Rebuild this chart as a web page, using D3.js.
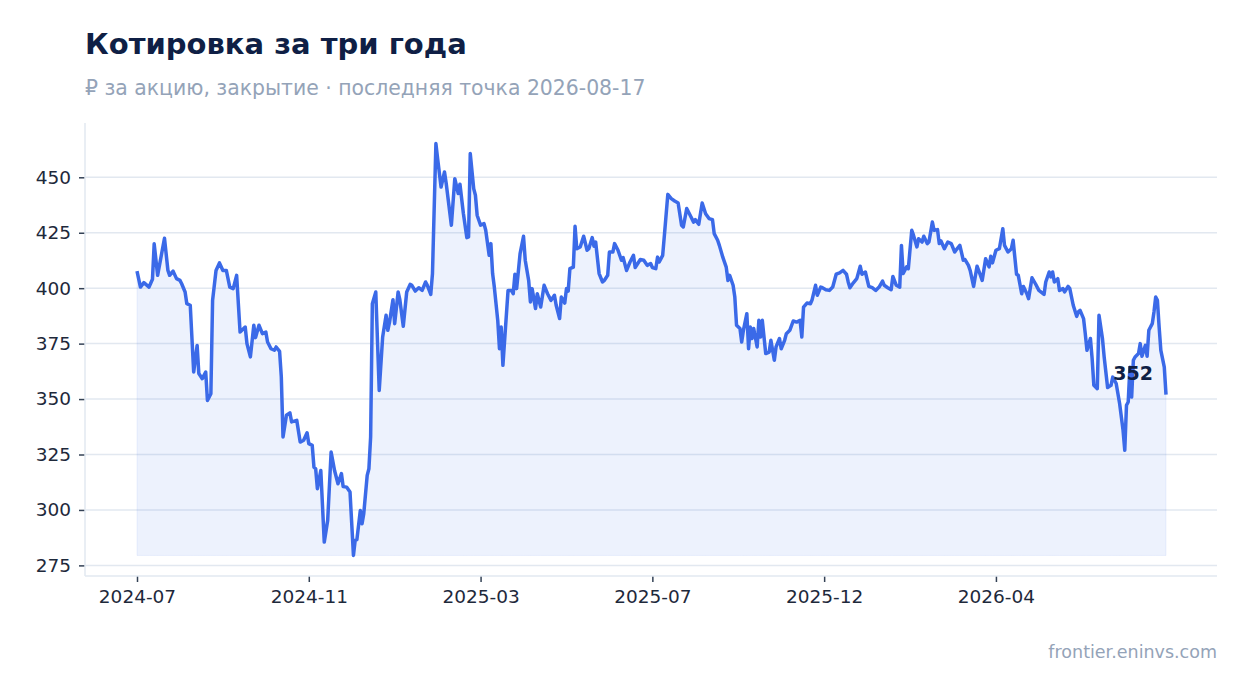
<!DOCTYPE html>
<html>
<head>
<meta charset="utf-8">
<script src="https://cdn.jsdelivr.net/npm/d3@7"></script>
<style>
  body { margin: 0; background: #fff; }
  text { font-family: "DejaVu Sans", sans-serif; }
</style>
</head>
<body>
<svg id="chart" width="1247" height="693"></svg>
<script>
// trading-day index (0 = first session) and close price
var dayIdx = [0,2,4,7,9,10,12,16,18,19,21,23,25,26,28,29,31,33,35,36,38,40,41,43,44,46,48,50,52,54,56,58,60,63,64,66,68,69,71,73,75,76,78,80,81,83,84,85,87,89,90,93,95,97,99,100,102,103,104,105,107,109,111,113,115,117,119,120,122,124,126,127,128,130,131,132,134,135,136,137,139,141,143,145,146,147,149,150,152,153,155,157,159,160,162,164,166,168,169,171,172,174,175,177,179,180,183,185,187,188,190,192,193,194,196,197,198,200,202,203,205,206,207,208,210,211,212,213,216,218,219,220,221,223,225,226,228,229,230,232,233,235,237,239,241,243,244,246,247,249,250,251,252,254,255,256,258,260,262,263,265,266,267,269,271,272,274,275,277,278,280,282,283,285,287,289,290,293,295,297,299,300,302,303,304,306,307,309,311,313,315,317,318,320,322,324,325,327,329,331,333,335,336,338,339,341,343,344,345,347,348,349,351,352,353,355,356,357,358,359,361,362,363,364,366,368,369,371,372,374,375,377,378,380,382,384,386,387,388,390,392,393,395,396,398,399,401,403,405,407,409,411,413,414,415,417,419,421,422,424,426,428,430,432,434,435,437,439,440,442,444,445,446,448,449,451,452,454,455,457,458,460,461,463,464,466,467,468,470,472,474,476,477,479,481,482,484,485,487,489,491,492,494,496,497,498,500,502,504,505,507,509,510,512,513,515,516,518,519,521,523,525,528,529,531,532,533,534,536,537,539,540,542,543,545,547,548,549,551,552,553,555,556,557,559,560,562,563,565,567,568,570,572,574,575,576,577,578,579,580,581,583,584,585,587,588,589,591,592,593,594,595,596,598,599];
var price = [407.7,400.5,402.5,400.5,404,420,405.8,422.5,408,405.8,407.7,404.3,403.5,402,398.3,393,392.3,362.2,374.2,361.5,359.2,362.2,349.4,352.4,394.5,408,411.4,408,408,400.5,399.8,405.8,380.2,382.5,375,369,383.3,377.7,383.3,379.5,380.2,375.7,372.7,372,373.5,371.5,360,332.9,342.7,343.8,339.7,340.4,330.6,331.4,334.8,329.9,329.1,319.3,318.6,309.6,317.8,285.5,295.3,326.1,317.8,311.8,316.4,310.6,310.3,308.1,279.5,286.3,286.6,299.8,293.8,298.3,315.6,318.6,332.9,393,398.3,353.9,378,387.8,381,384.7,394.8,384,398.3,394.8,382.8,398.3,401.7,401.3,398.7,400.2,399,402.8,401.3,397.2,406.6,465.2,458.4,445.6,452.4,447.2,428.4,449.4,442.7,446.9,433.7,422.8,423.1,460.7,444.9,441.9,432.9,428.4,429.1,426.1,414.8,420.1,406.6,400.5,385.5,372.7,382.5,365.2,399,399,397.5,406.3,399.8,415.6,423.4,412.6,403.5,393.8,399.8,390.8,397.5,391.5,401.3,397.5,394.5,396.8,392.3,386.3,396,393.3,399.8,398.7,408.8,409.5,427.9,417.8,418.6,423.4,417.1,417.8,422.8,418.9,420.8,406.6,402.8,403.5,405.8,416.3,416.3,420.1,417.1,412.6,413.8,408,411.8,414.8,409.3,412.9,412.6,410.3,411.1,409.3,408.8,414,411.8,414.8,423.8,442.3,440.4,439.3,438.4,428.4,427.6,435.9,432.9,429.8,430.9,428.8,438.4,433.6,431.4,430.9,424.6,421.6,419.3,414,409.5,403.5,405.8,401.3,396,383.3,381.8,375.7,381,388.5,372.7,382.5,377.3,381.8,373.5,385.5,378,385.5,370.5,371.2,376.5,367.5,373.5,377.3,372.7,376.5,379.5,381,385.2,384.7,385.5,378,391.5,393.3,393,394.8,401.3,396.8,400.5,400.2,399.3,399,400.5,406.3,406.9,408,406.3,402.8,400.2,402.4,404.3,409.9,406.3,407.3,400.8,400.2,399,400.5,403.2,401.3,400.2,399.3,405.3,401.3,400.5,419.3,406.6,409.6,408.8,426.1,423.9,418.6,422.3,420.8,423.4,420.1,420.8,429.8,426.1,426.4,420.1,421.3,417.8,420.8,420.1,416.3,417.4,419.3,412.6,412.9,410.3,408,400.8,409.9,405.8,403.5,413.3,409.6,414.4,411.4,417.1,417.8,426.8,419.3,416.3,417.8,421.6,406.3,405.8,397.5,400.8,397.5,395.3,404.7,402,399,397.2,402.8,407.3,405.1,407.3,402.8,404.3,399,399.8,398.3,400.8,399.8,392.3,387.3,389.3,390,386.3,379.5,372,377.3,368.2,356.2,354.7,387.8,377.3,369,355.2,356.2,359.9,357,348,335.9,326.9,347.2,348.7,364.4,350.9,367.5,369,370.5,375,369.3,374.2,369.3,381,384,389.3,396,394.5,382.5,372,364.4,352];
var tickIdx = [0, 100, 200, 300, 400, 500];
var tickLabels = ["2024-07", "2024-11", "2025-03", "2025-07", "2025-12", "2026-04"];
var yTicks = [275, 300, 325, 350, 375, 400, 425, 450];

var titleText = "Котировка за три года";
var subtitleText = "₽ за акцию, закрытие · последняя точка 2026-08-17";
var sourceText = "frontier.eninvs.com";

(function() {
  var svg = d3.select("#chart");
  var mLeft = 85, mRight = 1217, mTop = 123, mBottom = 576;
  var lastIdx = dayIdx[dayIdx.length - 1];

  var x = d3.scaleLinear().domain([0, lastIdx]).range([137, 1166]);
  var yMin = d3.min(price), yMax = d3.max(price);
  var pad = (yMax - yMin) * 0.05;
  var y = d3.scaleLinear().domain([yMin - pad, yMax + pad]).range([mBottom, mTop]);

  var pts = dayIdx.map(function(d, i) { return [d, price[i]]; });

  // grid
  svg.append("g").selectAll("line")
    .data(yTicks)
    .enter().append("line")
      .attr("x1", mLeft).attr("x2", mRight)
      .attr("y1", function(d) { return y(d); })
      .attr("y2", function(d) { return y(d); })
      .attr("stroke", "#e2e8f0").attr("stroke-width", 1.5);

  // area + line
  svg.append("path")
    .datum(pts)
    .attr("d", d3.area()
      .x(function(d) { return x(d[0]); })
      .y0(y(yMin))
      .y1(function(d) { return y(d[1]); }))
    .attr("fill", "#3b6ae8").attr("fill-opacity", 0.09)
    .attr("stroke", "#3b6ae8").attr("stroke-opacity", 0.08);

  svg.append("path")
    .datum(pts)
    .attr("d", d3.line()
      .x(function(d) { return x(d[0]); })
      .y(function(d) { return y(d[1]); }))
    .attr("fill", "none")
    .attr("stroke", "#3b6ae8")
    .attr("stroke-width", 3.5)
    .attr("stroke-linejoin", "round");

  // axes
  var yAxis = svg.append("g")
    .attr("transform", "translate(" + mLeft + ",0)")
    .call(d3.axisLeft(y).tickValues(yTicks).tickSize(6).tickPadding(8));
  var xAxis = svg.append("g")
    .attr("transform", "translate(0," + mBottom + ")")
    .call(d3.axisBottom(x).tickValues(tickIdx)
      .tickFormat(function(d, i) { return tickLabels[i]; })
      .tickSize(6).tickPadding(8));

  [yAxis, xAxis].forEach(function(g) {
    g.select(".domain").remove();
    g.selectAll(".tick line").attr("stroke", "#334155").attr("stroke-width", 1.5);
    g.selectAll(".tick text").attr("fill", "#1e293b").style("font-size", "18.5px")
      .style("font-family", "'DejaVu Sans', sans-serif");
  });

  svg.append("line").attr("x1", mLeft).attr("x2", mLeft).attr("y1", mTop).attr("y2", mBottom)
    .attr("stroke", "#e2e8f0").attr("stroke-width", 1.5);
  svg.append("line").attr("x1", mLeft).attr("x2", mRight).attr("y1", mBottom).attr("y2", mBottom)
    .attr("stroke", "#e2e8f0").attr("stroke-width", 1.5);

  // last value label
  svg.append("text")
    .attr("x", x(lastIdx) - 13)
    .attr("y", y(price[price.length - 1]) - 15)
    .attr("text-anchor", "end")
    .attr("fill", "#0f1f45")
    .style("font-size", "19px").style("font-weight", "bold")
    .text(d3.format("d")(price[price.length - 1]));

  // titles
  svg.append("text").attr("x", 85).attr("y", 54)
    .attr("fill", "#0f1f45").style("font-size", "29px").style("font-weight", "bold")
    .text(titleText);
  svg.append("text").attr("x", 85).attr("y", 95)
    .attr("fill", "#94a3b8").style("font-size", "20.4px")
    .text(subtitleText);
  svg.append("text").attr("x", mRight).attr("y", 658)
    .attr("text-anchor", "end")
    .attr("fill", "#94a3b8").style("font-size", "17.5px")
    .text(sourceText);
})();
</script>
</body>
</html>
